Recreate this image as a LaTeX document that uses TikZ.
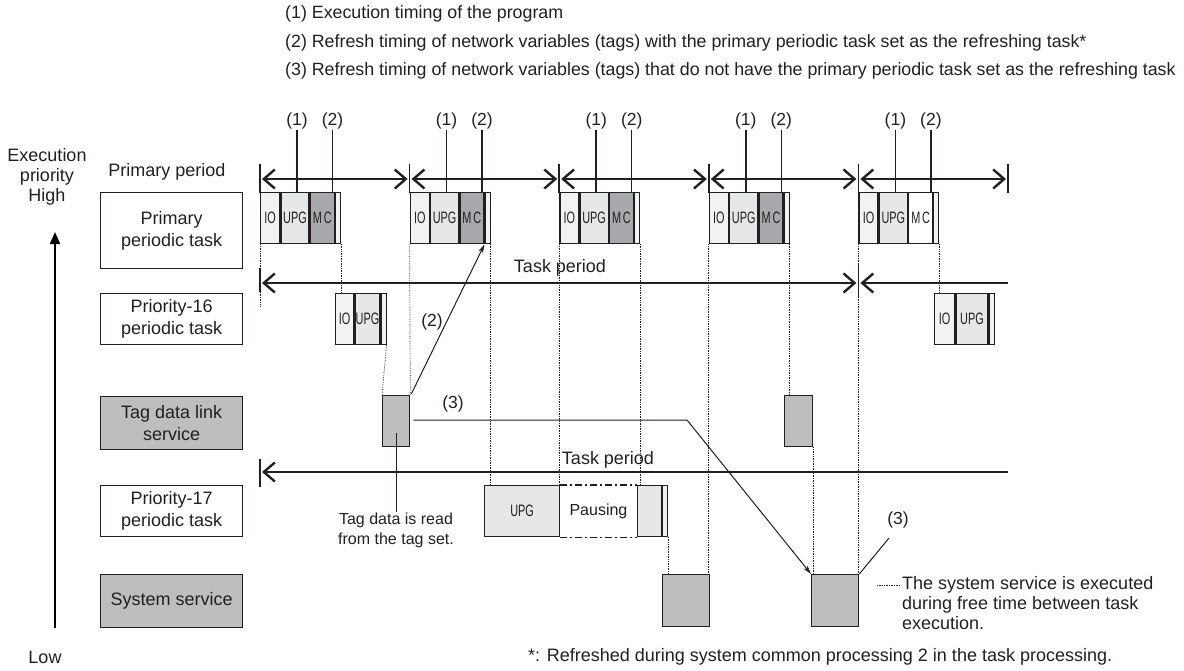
\documentclass[tikz,border=0pt]{standalone}
\usepackage{fontspec}
\usepackage{graphicx}
\setmainfont{Liberation Sans}
\usetikzlibrary{arrows.meta}
\definecolor{ink}{HTML}{231F20}
\definecolor{cIO}{HTML}{F1F2F2}
\definecolor{cUPG}{HTML}{E6E7E8}
\definecolor{cMC}{HTML}{A7A9AC}
\definecolor{cTag}{HTML}{BCBEC0}
\newcommand\cnd[1]{\scalebox{0.66}[1]{#1}}
\newcommand\pblock[3]{%
 \node[seg,fill=cIO,minimum width=19pt] (#1io) at (#2,192) {\cnd{IO}};
 \node[seg,fill=cUPG,minimum width=28pt] (#1upg) at (#1io.north east) {\cnd{UPG}};
 \node[seg,fill=#3,minimum width=24pt] (#1mc) at (#1upg.north east) {\cnd{M\,C}};
 \node[endbar] (#1end) at (#1mc.north east) {};
 \draw[markline] (#2+37,130) coordinate (#1m1) -- (#2+37,192);
 \draw[markline] (#2+72.5,130) coordinate (#1m2) -- (#2+72.5,192);
 \node[above=0pt, nfont] at (#1m1) {(1)};
 \node[above=0pt, nfont] at (#1m2) {(2)};
}
\begin{document}
\begin{tikzpicture}[x=1pt,y=-1pt,
  every node/.style={font=\fontsize{18}{20}\selectfont, text=ink, inner sep=1pt},
  hfont/.style={font=\fontsize{17.8}{20}\selectfont},
  nfont/.style={font=\fontsize{17.5}{20}\selectfont},
  sfont/.style={font=\fontsize{16}{20}\selectfont},
  seg/.style={draw=ink, line width=1.3pt, inner sep=0pt, minimum height=51pt, anchor=north west, font=\fontsize{16.5}{18}\selectfont},
  endbar/.style={seg, fill=cIO, minimum width=5pt, line width=1pt},
  lbl/.style={draw=ink, line width=1.2pt, minimum width=142pt, align=center, inner sep=0pt, anchor=north west, font=\fontsize{18}{22}\selectfont},
  markline/.style={draw=ink, line width=1.5pt},
  tick/.style={draw=ink, line width=1.5pt},
  period/.style={draw=ink, line width=2.4pt},
  guide/.style={draw=ink, line width=0.7pt, densely dotted},
  conn/.style={draw=ink, line width=1pt},
  bigtip/.tip={Straight Barb[length=11pt,width=19pt]},
  smalltip/.tip={Stealth[length=9pt,width=5pt]}
]
\useasboundingbox (0,0) rectangle (1184,670);

% header
\node[anchor=west, hfont] (h1) at (284,14) {(1) Execution timing of the program};
\node[anchor=west, hfont] (h2) at (284,43) {(2) Refresh timing of network variables (tags) with the primary periodic task set as the refreshing task*};
\node[anchor=west, hfont] (h3) at (284,71) {(3) Refresh timing of network variables (tags) that do not have the primary periodic task set as the refreshing task};

% priority axis
\node[align=center] (prio) at (47,177) {Execution\\priority\\High};
\node (low) at (45,657) {Low};
\draw[line width=2pt, -{Triangle[length=12pt,width=10pt]}] (55,628) -- (55,232);

% row labels
\node[lbl, minimum height=76pt] (lprim) at (100,192) {Primary\\periodic task};
\node[lbl, minimum height=51pt] (l16) at (100,293) {Priority-16\\periodic task};
\node[lbl, minimum height=53pt, fill=cTag] (ltag) at (100,396) {Tag data link\\service};
\node[lbl, minimum height=51pt] (l17) at (100,485) {Priority-17\\periodic task};
\node[lbl, minimum height=53pt, fill=cTag] (lsys) at (100,574) {System service};
\node (pp) at (167,172) {Primary period};

% primary period timeline
\foreach \i/\x in {0/260,1/409.6,2/559.2,3/708.8,4/858.4,5/1008} {
  \draw[tick] (\x,164) coordinate (t\i) -- (\x,193);
}
\foreach \a/\b in {0/1,1/2,2/3,3/4,4/5} {
  \draw[period, bigtip-bigtip] ([xshift=2pt]t\a |- 0,179) -- ([xshift=-2pt]t\b |- 0,179);
}

% primary blocks
\pblock{pa}{260}{cMC}
\pblock{pb}{409.6}{cMC}
\pblock{pc}{559.2}{cMC}
\pblock{pd}{708.8}{cMC}
\pblock{pe}{858.4}{white}

% priority-16 blocks
\node[seg,fill=cIO,minimum width=18pt] (qaio) at (335,293) {\cnd{IO}};
\node[seg,fill=cUPG,minimum width=25pt] (qaupg) at (qaio.north east) {\cnd{UPG}};
\node[endbar] (qaend) at (qaupg.north east) {};
\node[seg,fill=cIO,minimum width=20pt] (qbio) at (934,293) {\cnd{IO}};
\node[seg,fill=cUPG,minimum width=32pt] (qbupg) at (qbio.north east) {\cnd{UPG}};
\node[endbar] (qbend) at (qbupg.north east) {};

% task period (priority-16)
\draw[tick] (260,268) coordinate (ua) -- (260,292);
\draw[tick] (858.4,264) coordinate (ub) -- (858.4,298);
\draw[period, bigtip-bigtip] (262,283) -- (856.4,283);
\draw[period, bigtip-] (860.4,283) -- (1008,283) coordinate (uc);
\node (tp1) at (560,268) {Task period};

% tag data link blocks
\node[seg,fill=cTag,minimum width=27pt] (taga) at (382,395) {};
\node[seg,fill=cTag,minimum width=28pt] (tagb) at (784,395) {};

% priority-17 block
\node[seg,fill=cUPG,minimum width=75pt] (raupg) at (484,485) {\cnd{UPG}};
\node[seg,draw=none,minimum width=75pt,sfont] (rapause) at (raupg.north east) {Pausing};
\draw[ink, line width=1.5pt, dash pattern=on 7pt off 3pt on 2pt off 3pt] (rapause.north west) -- (rapause.north east);
\draw[ink, line width=1.5pt, dash pattern=on 7pt off 3pt on 2pt off 3pt] (rapause.south west) -- (rapause.south east);
\node[seg,fill=cUPG,minimum width=24pt] (rarest) at (rapause.north east) {};
\node[endbar] (raend) at (rarest.north east) {};

% task period (priority-17)
\draw[tick] (260,459) coordinate (va) -- (260,487);
\draw[period, bigtip-] (262,472) -- (1008,472) coordinate (vb);
\node (tp2) at (608,460) {Task period};

% system service blocks
\node[seg,fill=cTag,minimum width=47pt,minimum height=52pt] (sysa) at (662,574) {};
\node[seg,fill=cTag,minimum width=47pt,minimum height=52pt] (sysb) at (811,574) {};

% dotted guides
\draw[guide] (paio.south west) -- (260,307);
\draw[guide] (paend.south east) -- (qaio.north west -| paend.south east);
\draw[guide] (qaend.south east) -- (taga.north west);
\draw[guide] (pbio.south west) -- (taga.north east);
\draw[guide] (pbend.south east) -- (raupg.north west -| pbend.south east);
\draw[guide] (pcio.south west) -- (raupg.north east -| pcio.south west);
\draw[guide] (pcend.south east) -- (rarest.north west -| pcend.south east);
\draw[guide] (raend.south east) -- (sysa.north west -| raend.south east);
\draw[guide] (pdio.south west) -- (sysa.north east -| pdio.south west);
\draw[guide] (pdend.south east) -- (tagb.north west -| pdend.south east);
\draw[guide] (tagb.south east) -- (sysb.north west -| tagb.south east);
\draw[guide] (peio.south west) -- (sysb.north east -| peio.south west);
\draw[guide] (peend.south east) -- (qbio.north west -| peend.south east);

% refresh arrows
\draw[conn, -smalltip] (taga.north east) ++(1,-1) -- (pbmc.south east);
\node[nfont] (r2) at (432,322) {(2)};
\coordinate (bend3) at (687,420);
\draw[conn, -smalltip] (taga.east |- 0,420) ++(3,0) -- (bend3) -- (sysb.north west);
\node[nfont] (r3a) at (453,404) {(3)};
\coordinate (c3) at (889,538);
\draw[conn] (sysb.north east) -- (c3);
\node[nfont] (r3b) at (898,520) {(3)};

% tag read note
\coordinate (tr) at (396,433);
\coordinate (trb) at (396,512);
\draw[conn] (tr) -- (trb);
\node[align=center, anchor=north, sfont] (tagnote) at (trb) {Tag data is read\\from the tag set.};

% system service note
\coordinate (sn1) at (877,585);
\coordinate (sn2) at (900,585);
\draw[guide] (sn1) -- (sn2);
\node[align=left, anchor=north west, font=\fontsize{18}{20}\selectfont] (sysnote) at (901,575) {The system service is executed\\during free time between task\\execution.};

% footnote
\node[anchor=west] (foot) at (527,657) {*: Refreshed during system common processing 2 in the task processing.};
\end{tikzpicture}
\end{document}
